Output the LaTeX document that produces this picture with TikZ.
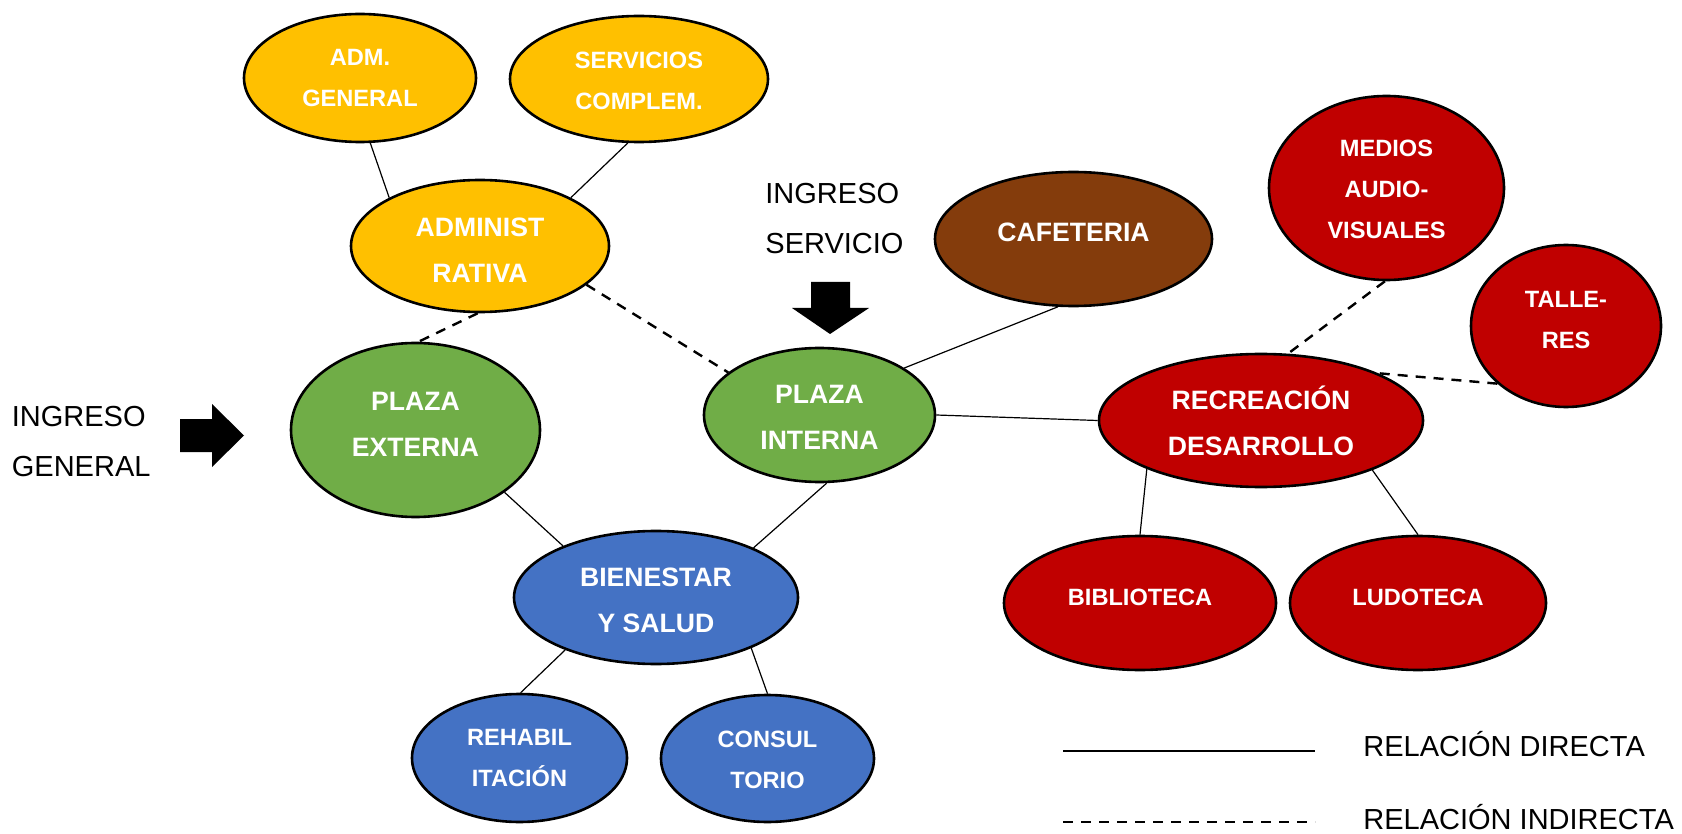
\documentclass[tikz,border=0pt]{standalone}
\usepackage{fontspec}
\setmainfont{Liberation Sans}
\usetikzlibrary{shapes.geometric}
\definecolor{yellowc}{HTML}{FFC000}
\definecolor{greenc}{HTML}{70AD47}
\definecolor{bluec}{HTML}{4472C4}
\definecolor{redc}{HTML}{C00000}
\definecolor{brownc}{HTML}{843C0C}
\newcommand\nt[1]{\begin{tabular}[b]{@{}c@{}}#1\end{tabular}}
\newcommand\lt[1]{\begin{tabular}[b]{@{}l@{}}#1\end{tabular}}
\begin{document}
\begin{tikzpicture}[x=0.5pt,y=-0.5pt,
  bub/.style={ellipse,draw=black,line width=1.3pt,inner sep=0pt,text=white,text depth=0pt},
  sm/.style={bub,font=\bfseries\fontsize{11.8}{20.5}\selectfont},
  bg/.style={bub,font=\bfseries\fontsize{13.3}{23}\selectfont},
  direct/.style={line width=0.6pt},
  indirect/.style={line width=1.2pt,dash pattern=on 5pt off 4pt},
  lbl/.style={font=\fontsize{14.5}{25}\selectfont,inner sep=0pt,anchor=west,text depth=0pt},
  bigarrow/.style={fill=black}
  ]
\useasboundingbox (0,0) rectangle (1682,834);

% nodes
\node[sm,fill=yellowc,minimum width=116pt,minimum height=64pt,text height=28.95pt] (admgen) at (360,78) {\nt{ADM.\\GENERAL}};
\node[sm,fill=yellowc,minimum width=129pt,minimum height=63pt,text height=30.95pt] (serv) at (639,79) {\nt{SERVICIOS\\COMPLEM.}};
\node[bg,fill=yellowc,minimum width=129pt,minimum height=66pt,text height=36.52pt] (admin) at (480,246) {\nt{ADMINIST\\RATIVA}};
\node[bg,fill=greenc,minimum width=124.5pt,minimum height=87pt,text height=26.52pt] (pext) at (415.5,430) {\nt{PLAZA\\EXTERNA}};
\node[bg,fill=greenc,minimum width=115.5pt,minimum height=67pt,text height=34.52pt] (pint) at (819.5,415) {\nt{PLAZA\\INTERNA}};
\node[bg,fill=brownc,minimum width=138.5pt,minimum height=67pt,text height=2.52pt] (caf) at (1073.5,239) {CAFETERIA};
\node[sm,fill=redc,minimum width=117.5pt,minimum height=92pt,text height=50.45pt] (medios) at (1386.5,188) {\nt{MEDIOS\\AUDIO-\\VISUALES}};
\node[sm,fill=redc,minimum width=95pt,minimum height=81pt,text height=22.95pt] (tall) at (1566,326) {\nt{TALLE-\\RES}};
\node[bg,fill=redc,minimum width=162pt,minimum height=66.5pt,text height=35.02pt] (recr) at (1261,420.5) {\nt{RECREACIÓN\\DESARROLLO}};
\node[bg,fill=bluec,minimum width=142pt,minimum height=66.5pt,text height=34.52pt] (bien) at (656,597.5) {\nt{BIENESTAR\\Y SALUD}};
\node[sm,fill=redc,minimum width=136pt,minimum height=67pt,text height=2.45pt] (bib) at (1140,603) {BIBLIOTECA};
\node[sm,fill=redc,minimum width=128pt,minimum height=67pt,text height=2.45pt] (lud) at (1418,603) {LUDOTECA};
\node[sm,fill=bluec,minimum width=107.5pt,minimum height=64pt,text height=28.95pt] (rehab) at (519.5,758) {\nt{REHABIL\\ITACIÓN}};
\node[sm,fill=bluec,minimum width=106.5pt,minimum height=63.5pt,text height=29.95pt] (consul) at (767.5,758.5) {\nt{CONSUL\\TORIO}};

% connectors
\draw[direct] (admgen.-81.3) -- (admin.152);
\draw[direct] (serv.-100.6) -- (admin.28);
\draw[indirect] (admin.-92.5) -- (pext.88.4);
\draw[indirect] (admin.-20) -- (pint.155.8);
\draw[direct] (pint.29.6) -- (caf.-103.8);
\draw[direct] (pint.-0.5) -- (recr.180);
\draw[indirect] (medios.-91.5) -- (recr.68.2);
\draw[indirect] (tall.-140) -- (recr.22.4);
\draw[direct] (recr.-157.9) -- (bib.90);
\draw[direct] (recr.-24.8) -- (lud.90);
\draw[direct] (pext.-35.1) -- (bien.151.3);
\draw[direct] (pint.-84.5) -- (bien.27);
\draw[direct] (bien.-150.8) -- (rehab.89);
\draw[direct] (bien.-28) -- (consul.90);

% entrance arrows
\fill[bigarrow] (180,419) -- (212,419) -- (212,404) -- (244,435.5) -- (212,467) -- (212,452) -- (180,452) -- cycle;
\fill[bigarrow] (811,282) -- (850,282) -- (850,308) -- (869,308) -- (830,334) -- (792,308) -- (811,308) -- cycle;

% labels
\node[lbl,text height=35.4pt] (ingen) at (11.5,441.5) {\lt{INGRESO\\GENERAL}};
\node[lbl,text height=35.4pt] (ingser) at (765,218) {\lt{INGRESO\\SERVICIO}};

% legend
\coordinate (l1a) at (1063,751);
\coordinate (l1b) at (1315,751);
\coordinate (l2a) at (1063,822);
\coordinate (l2b) at (1315,822);
\draw[direct] (l1a) -- (l1b);
\draw[indirect] (l2a) -- (l2b);
\node[lbl,text height=10.4pt] (ldir) at (1363,746) {RELACIÓN DIRECTA};
\node[lbl,text height=10.4pt] (lind) at (1363,819) {RELACIÓN INDIRECTA};
\end{tikzpicture}
\end{document}
